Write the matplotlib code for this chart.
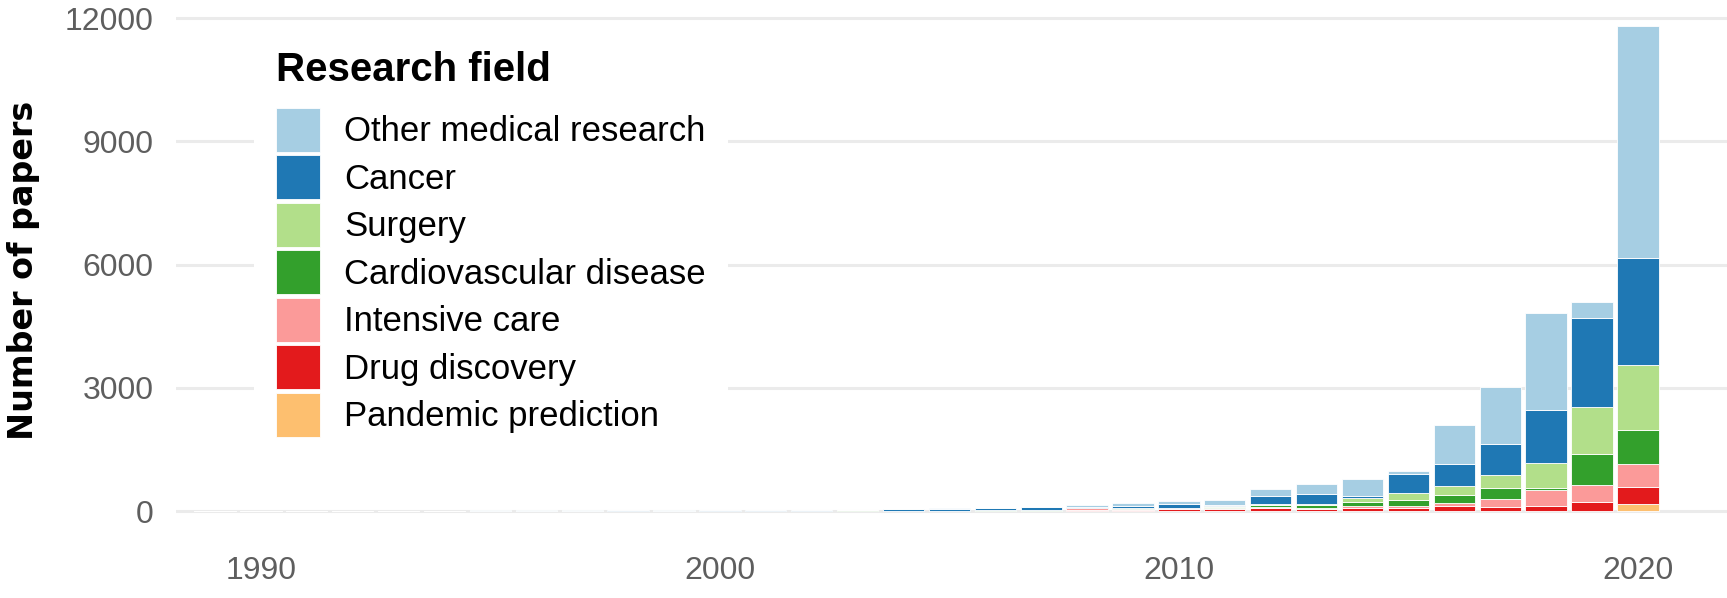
import matplotlib
matplotlib.use('Agg')
import matplotlib.pyplot as plt
import numpy as np

years = np.arange(1989, 2021)

fields = ['Pandemic prediction', 'Drug discovery', 'Intensive care',
          'Cardiovascular disease', 'Surgery', 'Cancer', 'Other medical research']
colors = ['#fdbf6f', '#e31a1c', '#fb9a99', '#33a02c', '#b2df8a', '#1f78b4', '#a6cee3']

#            1989 .............................................................................. 2020
pandemic  = [0, 0, 0, 0, 0, 0, 0, 0, 0, 0, 0, 0, 0, 0, 0, 0, 0, 0, 0, 0, 0, 0, 0, 0, 0, 0, 0, 0, 0, 5, 10, 169]
drug      = [0, 0, 0, 0, 0, 0, 1, 1, 1, 1, 1, 2, 2, 3, 3, 0, 0, 0, 0, 32, 32, 48, 56, 65, 56, 81, 64, 121, 97, 116, 216, 419]
intensive = [0, 0, 0, 0, 0, 0, 1, 1, 1, 1, 1, 1, 2, 2, 4, 0, 0, 8, 8, 32, 24, 32, 24, 30, 24, 32, 57, 80, 201, 387, 419, 565]
cardio    = [0, 0, 1, 1, 1, 1, 2, 2, 2, 4, 3, 3, 4, 4, 6, 8, 8, 16, 8, 0, 16, 0, 24, 50, 65, 105, 145, 186, 250, 40, 733, 822]
surgery   = [0, 0, 0, 0, 1, 1, 1, 2, 2, 4, 2, 3, 3, 3, 5, 0, 0, 8, 0, 0, 0, 0, 16, 30, 32, 97, 177, 226, 322, 629, 1145, 1579]
cancer    = [0, 1, 1, 1, 1, 2, 4, 4, 4, 4, 4, 6, 10, 10, 6, 40, 48, 40, 73, 40, 40, 89, 16, 193, 234, 48, 468, 540, 766, 1289, 2176, 2612]
other     = [1, 1, 1, 2, 2, 3, 5, 5, 4, 5, 4, 6, 8, 8, 6, 8, 8, 8, 8, 40, 81, 81, 137, 177, 250, 419, 64, 943, 1387, 2354, 387, 5634]

series = [pandemic, drug, intensive, cardio, surgery, cancer, other]

W, H = 1727, 598
fig = plt.figure(figsize=(W / 100, H / 100), dpi=100)
ax = fig.add_axes([176 / W, 1 - 535 / H, (W - 176) / W, 533 / H])

bottom = np.zeros(len(years))
bars = []
for name, vals, c in zip(fields, series, colors):
    vals = np.array(vals)
    b = ax.bar(years, vals, bottom=bottom, width=0.9, color=c,
               edgecolor='white', linewidth=0.6, label=name)
    bars.append(b)
    bottom += vals

ax.set_xlim(1988.15, 2021.94)
ax.set_ylim(-584, 12390)
ax.set_xticks([1990, 2000, 2010, 2020])
ax.set_yticks([0, 3000, 6000, 9000, 12000])
for s in ax.spines.values():
    s.set_visible(False)
ax.yaxis.grid(True, color='#ebebeb', linewidth=2.2)
ax.xaxis.grid(False)
ax.set_axisbelow(True)
ax.tick_params(axis='both', length=0, labelsize=23, colors='#5e5e5e')
ax.tick_params(axis='y', pad=16)
ax.tick_params(axis='x', pad=15)
for lab in ax.get_xticklabels() + ax.get_yticklabels():
    lab.set_family(['Liberation Sans', 'DejaVu Sans'])

sans = ['Liberation Sans', 'DejaVu Sans']
leg = ax.legend(bars[::-1], fields[::-1], loc='upper left',
                bbox_to_anchor=(254 / W, 1 - 86 / H), bbox_transform=fig.transFigure,
                prop={'family': sans, 'size': 25},
                handlelength=1.27, handleheight=1.574, labelspacing=0.1,
                handletextpad=0.7, borderpad=0.63, borderaxespad=0,
                frameon=True, fancybox=False, framealpha=1)
leg.get_frame().set_facecolor('white')
leg.get_frame().set_edgecolor('none')

fig.text(276 / W, 1 - 81 / H, 'Research field', fontsize=29, fontweight='bold',
         family=sans, va='baseline', ha='left')
fig.text(24 / W, 1 - 270 / H, 'Number of papers', rotation=90, fontsize=24,
         fontweight='bold', family='DejaVu Sans', ha='center', va='center')

fig.savefig('out.png', dpi=100)
